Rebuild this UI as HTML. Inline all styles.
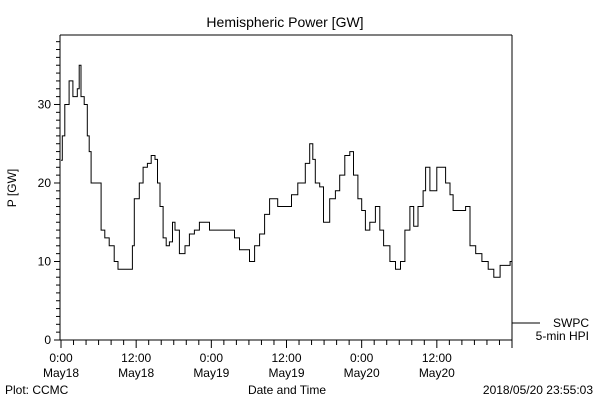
<!DOCTYPE html>
<html><head><meta charset="utf-8"><style>
body{margin:0;background:#fff;}
svg text{font-family:"Liberation Sans",sans-serif;font-size:12px;fill:#000;}
</style></head><body>
<svg width="600" height="400" viewBox="0 0 600 400">
<rect width="600" height="400" fill="#fff"/>
<text x="285" y="27" text-anchor="middle" style="font-size:14px">Hemispheric Power [GW]</text>
<g id="axes"></g>
<path id="series" fill="none" stroke="#000" stroke-width="1"/>
<line x1="512" y1="323" x2="540" y2="323" stroke="#000"/>
<text x="589" y="327" text-anchor="end">SWPC</text>
<text x="589" y="340" text-anchor="end">5-min HPI</text>
<text x="287" y="394" text-anchor="middle">Date and Time</text>
<text x="5" y="394">Plot: CCMC</text>
<text x="593" y="394" text-anchor="end">2018/05/20 23:55:03</text>
<text transform="translate(16,188) rotate(-90)" text-anchor="middle">P [GW]</text>
</svg>
<script>
const hours=[0,0.2,0.6,1.3,1.9,2.6,2.9,3.2,3.7,4.2,4.5,4.8,5.9,6.4,7.0,7.7,8.5,9.1,10.9,11.4,11.7,12.5,13.1,13.8,14.4,15.0,15.4,15.8,16.3,16.8,17.3,17.8,18.2,18.9,19.8,20.5,21.3,22.1,23.7,26.9,27.7,28.5,30.1,30.9,31.7,32.5,33.3,34.6,36,36.8,37.8,39.0,39.7,40.2,40.6,41.3,41.9,42.9,43.8,44.5,45.3,46.1,46.7,47.4,48,48.6,49.3,50.2,50.9,51.5,52.5,53.4,54.2,54.9,55.7,56.3,57,57.8,58.2,58.9,59.4,60,60.8,61.4,62.1,62.6,64.6,65.3,66.2,67.2,68.2,69.1,70.1,71.7,72];
const power=[22.9,26,30,33,31,32,35,31,30,26,24,20,20,14,13,12,10,9,9,12,18,20,22,22.5,23.5,23,20,17,13,12,12.5,15,14,11,12,13.5,14,15,14,14,13,11.5,10,12,13.5,16,18,17,17,18.5,20,22.5,25,23,20,19.5,15,18,19,21,23.5,24,21,18,16.5,14,15,17,14,12,10,9,10,14,17,14.5,17,19,22,19,19,22,22,20,18.5,16.5,17,12,11,10,9,8,9.5,10,11];
const xTickHours=[0,12,24,36,48,60];
const xTickTimes=["0:00","12:00","0:00","12:00","0:00","12:00"];
const xTickDates=["May18","May18","May19","May19","May20","May20"];
const yTicks=[0,10,20,30];
const X0=61,X1=512,Y0=340,Y1=35,HMAX=72,VMAX=38.85;
const xs=h=>X0+(X1-X0)*h/HMAX;
const ys=v=>Y0-(Y0-Y1)*v/VMAX;
const NS="http://www.w3.org/2000/svg";
const ax=document.getElementById('axes');
function ln(x1,y1,x2,y2,name){const l=document.createElementNS(NS,'line');
l.setAttribute('x1',x1);l.setAttribute('y1',y1);l.setAttribute('x2',x2);l.setAttribute('y2',y2);
l.setAttribute('stroke','#000');l.setAttribute('stroke-width','1');


ax.appendChild(l);}
function tx(x,y,s,anchor,name){const t=document.createElementNS(NS,'text');
t.setAttribute('x',x);t.setAttribute('y',y);t.setAttribute('text-anchor',anchor);t.textContent=s;


ax.appendChild(t);}
ln(X0-1,Y1,X0-1,Y0,'y-axis-line');ln(X0-1,Y0,X1,Y0,'x-axis-line');ln(X0-1,Y1,X1,Y1,'top-frame');ln(X1,Y1,X1,Y0,'right-frame');
for(let v=0;v<=38;v++){const maj=v%10===0;ln(X0-(maj?7:5),ys(v),X0-1,ys(v),'y-tick');}
yTicks.forEach(v=>tx(X0-10,ys(v)+4,String(v),'end','y-tick-label'));
for(let h=0;h<=72;h+=2){const maj=h%12===0;ln(xs(h),Y0,xs(h),Y0+(maj?8:5),'x-tick');}
xTickHours.forEach((h,i)=>{tx(xs(h),Y0+22,xTickTimes[i],'middle','x-tick-time');tx(xs(h),Y0+37,xTickDates[i],'middle','x-tick-date');});
let d='M'+xs(hours[0])+','+ys(power[0]);
for(let i=1;i<hours.length;i++){d+=' H'+xs(hours[i]).toFixed(1)+' V'+ys(power[i]).toFixed(1);}
document.getElementById('series').setAttribute('d',d);
</script>
</body></html>
